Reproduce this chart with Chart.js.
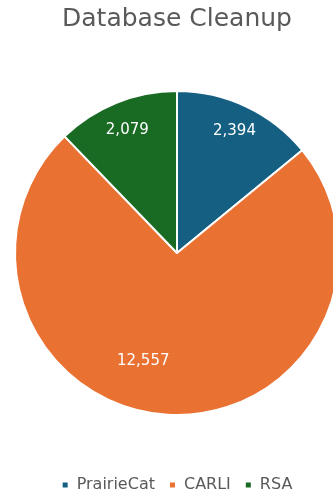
<!DOCTYPE html>
<html>
<head>
<meta charset="utf-8">
<script src="https://cdn.jsdelivr.net/npm/chart.js@4/dist/chart.umd.min.js"></script>
<style>
  html, body { margin: 0; padding: 0; background: #fff; overflow: hidden; }
  #wrap { position: relative; width: 354px; height: 495px; }
</style>
</head>
<body>
<div id="wrap"><canvas id="pieChart"></canvas></div>
<script>
// Chart data
const categories = ["PrairieCat", "CARLI", "RSA"];
const recordCounts = [2394, 12557, 2079];
const sliceColors = ["#156082", "#E97132", "#196B24"];

// label placement tweaks (angle offset in degrees, fraction of radius)
const labelAngleShift = [0, 14, 0];
const labelRadius = [0.83, 0.70, 0.82];

const FONT = "'DejaVu Sans', sans-serif";

const sliceLabels = {
  id: "sliceLabels",
  afterDatasetsDraw(chart) {
    const ctx = chart.ctx;
    const arcs = chart.getDatasetMeta(0).data;
    ctx.save();
    ctx.fillStyle = "#ffffff";
    ctx.font = "15px " + FONT;
    ctx.textAlign = "center";
    ctx.textBaseline = "middle";
    arcs.forEach((arc, i) => {
      const p = arc.getProps(["x", "y", "startAngle", "endAngle", "outerRadius"], true);
      const mid = (p.startAngle + p.endAngle) / 2 + labelAngleShift[i] * Math.PI / 180;
      const r = p.outerRadius * labelRadius[i];
      ctx.fillText(recordCounts[i].toLocaleString("en-US"), p.x + Math.cos(mid) * r, p.y + Math.sin(mid) * r);
    });
    ctx.restore();
  }
};

new Chart(document.getElementById("pieChart"), {
  type: "pie",
  data: {
    labels: categories,
    datasets: [{
      data: recordCounts,
      backgroundColor: sliceColors,
      borderColor: "#ffffff",
      borderWidth: 2,
      radius: 162
    }]
  },
  options: {
    responsive: true,
    maintainAspectRatio: false,
    animation: false,
    layout: { padding: { top: 0, bottom: -8 } },
    plugins: {
      title: {
        display: true,
        text: "Database Cleanup",
        color: "#595959",
        font: { family: FONT, size: 25, weight: "normal" },
        padding: { top: 4, bottom: 9 }
      },
      legend: {
        position: "bottom",
        labels: {
          color: "#595959",
          font: { family: FONT, size: 16 },
          usePointStyle: true,
          pointStyle: "rect",
          boxWidth: 7,
          boxHeight: 7,
          padding: 14
        }
      },
      tooltip: { enabled: false }
    }
  },
  plugins: [sliceLabels]
});
</script>
</body>
</html>
